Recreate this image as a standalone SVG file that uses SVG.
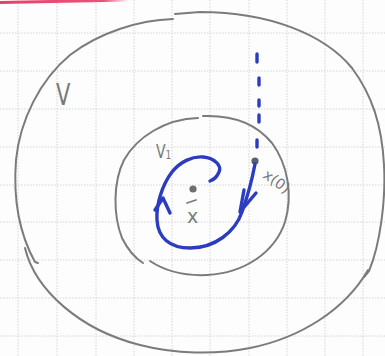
<svg xmlns="http://www.w3.org/2000/svg" width="385" height="356" viewBox="0 0 385 356">
<defs>
<linearGradient id="redfade" x1="0" y1="0" x2="1" y2="0">
<stop offset="0" stop-color="#e8406a" stop-opacity="1"/>
<stop offset="0.8" stop-color="#e8406a" stop-opacity="0.9"/>
<stop offset="1" stop-color="#e8406a" stop-opacity="0"/>
</linearGradient>
<style>
.grid line{stroke:#d4d4d4;stroke-width:1;stroke-dasharray:1.5 1.5}
.pencil{fill:none;stroke:#7b7b7b;stroke-width:2;stroke-linecap:round;stroke-linejoin:round}
.ink{fill:none;stroke:#2b3cc0;stroke-width:3.4;stroke-linecap:round;stroke-linejoin:round}
.lbl{fill:#7a7a7a;font-family:"DejaVu Sans","Liberation Sans",sans-serif}
</style>
</defs>
<rect width="385" height="356" fill="#fdfdfd"/>
<g class="grid">
<line x1="18" y1="0" x2="18" y2="356"/>
<line x1="57" y1="0" x2="57" y2="356"/>
<line x1="96" y1="0" x2="96" y2="356"/>
<line x1="134" y1="0" x2="134" y2="356"/>
<line x1="172" y1="0" x2="172" y2="356"/>
<line x1="210" y1="0" x2="210" y2="356"/>
<line x1="249" y1="0" x2="249" y2="356"/>
<line x1="287" y1="0" x2="287" y2="356"/>
<line x1="325" y1="0" x2="325" y2="356"/>
<line x1="363" y1="0" x2="363" y2="356"/>
<line x1="0" y1="33" x2="385" y2="33"/>
<line x1="0" y1="71" x2="385" y2="71"/>
<line x1="0" y1="109" x2="385" y2="109"/>
<line x1="0" y1="147" x2="385" y2="147"/>
<line x1="0" y1="185" x2="385" y2="185"/>
<line x1="0" y1="222" x2="385" y2="222"/>
<line x1="0" y1="260" x2="385" y2="260"/>
<line x1="0" y1="298" x2="385" y2="298"/>
<line x1="0" y1="336" x2="385" y2="336"/>
</g>
<path d="M0,2.5 L130,0" stroke="url(#redfade)" stroke-width="3" fill="none"/>
<g id="node-V">
<path class="pencil" d="M173,19 C140,20 100,32 70,55 C40,80 20,120 16,160 C13,200 20,235 35,262 L38,263"/>
<path class="pencil" d="M25,248 C35,290 80,330 140,345 C175,354 215,355 250,348 C300,338 345,310 368,270"/>
<path class="pencil" d="M364,277 L369,271 C380,245 386,200 384,165 C382,125 372,95 352,68 C325,35 270,12 200,12 L175,14"/>
<text class="lbl" x="0" y="0" font-size="31" transform="translate(56,105) scale(0.68,1)">V</text>
</g>
<g id="node-V1">
<path class="pencil" d="M198,118 C165,119 137,137 124,160 C113,182 113,215 122,238 C128,250 135,258 143,263"/>
<path class="pencil" d="M150,261 C165,271 185,276 207,275 C245,273 275,252 285,222 C293,195 288,165 272,143 C255,122 230,115 203,116"/>
<text class="lbl" x="0" y="0" font-size="20" transform="translate(156,158) scale(0.7,1)">V<tspan font-size="13" dy="1">1</tspan></text>
</g>
<g id="node-xbar">
<circle cx="193" cy="189" r="3.6" fill="#6e6e6e"/>
<line x1="187" y1="203" x2="196" y2="200" stroke="#7b7b7b" stroke-width="1.8" stroke-linecap="round"/>
<text class="lbl" x="187" y="223" font-size="19">x</text>
</g>
<g id="node-x0">
<circle cx="255" cy="161" r="3.6" fill="#5a5f70"/>
<text class="lbl" x="0" y="0" font-size="14.5" transform="translate(262,177) rotate(36)">x(0)</text>
</g>
<g id="connectors">
<path class="ink" stroke-width="3" d="M257,54 L257,62 M259,78 L259,85 M259,100 L259,106 M259,115 L259,122 M257,140 L257,147"/>
<path class="ink" d="M255,164 C252,180 248,195 242,212 C235,232 215,248 190,248 C170,248 158,238 157,220 C156,205 162,185 172,172 C180,162 192,156 203,157 C215,158 222,166 219,172 C217,177 213,180 210,181"/>
<path class="ink" d="M244,190 L240,212 L256,193"/>
<path class="ink" d="M155,210 L163,198 L170,213"/>
</g>
</svg>
